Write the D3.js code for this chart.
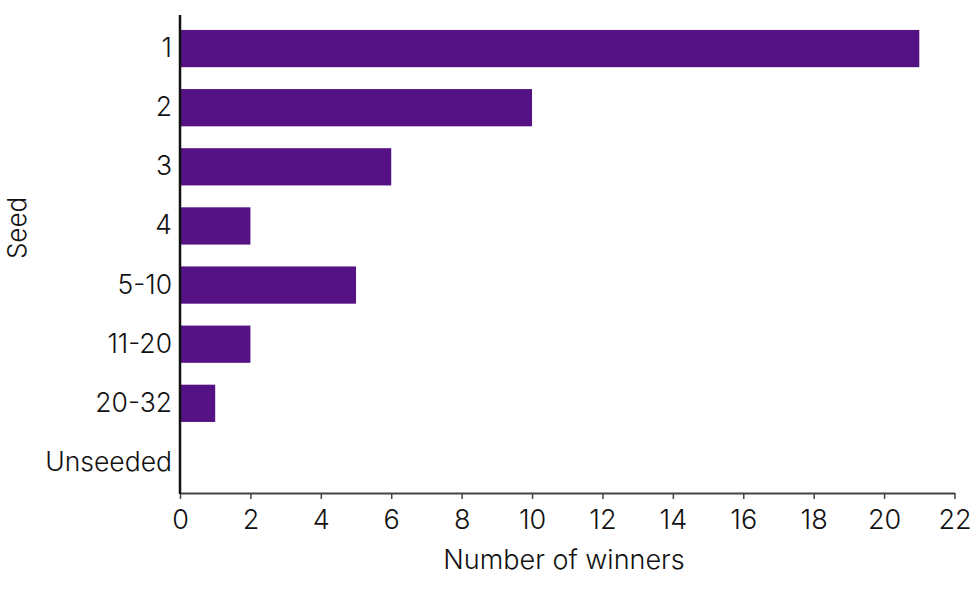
<!DOCTYPE html>
<html><head><meta charset="utf-8">
<script src="https://cdn.jsdelivr.net/npm/d3@7"></script>
<style>body{margin:0;background:#fff}svg text{font-family:Inter,"Liberation Sans",Arial,sans-serif;font-weight:300;fill:#111}</style>
</head><body><svg id="c" width="976" height="590"></svg>
<script>
const categories = ["1","2","3","4","5-10","11-20","20-32","Unseeded"];
const winners = [21,10,6,2,5,2,1,0];
const xTicks = [0,2,4,6,8,10,12,14,16,18,20,22];

const FONT = "Inter, Liberation Sans, Arial, sans-serif";
const svg = d3.select("#c");
const x = d3.scaleLinear().domain([0,22]).range([180,954.5]);
const y = d3.scaleBand().domain(categories).range([19,492]).paddingInner(0.37).paddingOuter(0.185);

svg.selectAll("rect.bar").data(categories).enter().append("rect")
  .attr("class","bar")
  .attr("x", x(0))
  .attr("y", d => y(d))
  .attr("width", (d,i) => x(winners[i]) - x(0))
  .attr("height", y.bandwidth())
  .attr("fill", "#541284");

// x axis
const xa = svg.append("g").attr("transform","translate(0,493)")
  .call(d3.axisBottom(x).tickValues(xTicks).tickSize(6).tickSizeOuter(0).tickPadding(11));
xa.select(".domain").attr("stroke","#444").attr("stroke-width",2);
xa.selectAll(".tick line").attr("stroke","#444").attr("stroke-width",1.5);
xa.selectAll(".tick text").attr("font-size",27).attr("fill","#111").style("font-family",FONT).style("font-weight",300);

// y axis
const ya = svg.append("g").attr("transform","translate(180,0)")
  .call(d3.axisLeft(y).tickSize(0).tickPadding(8));
ya.select(".domain").remove();
ya.selectAll(".tick text").attr("font-size",26.5).attr("fill","#111").style("font-family",FONT).style("font-weight",300);
svg.append("line").attr("x1",180).attr("x2",180).attr("y1",15).attr("y2",494)
  .attr("stroke","#111").attr("stroke-width",2.5);

svg.append("text").attr("x",564).attr("y",569).attr("text-anchor","middle")
  .attr("font-size",27).text("Number of winners");
svg.append("text").attr("transform","translate(26,228) rotate(-90)").attr("text-anchor","middle")
  .attr("font-size",26).text("Seed");
</script></body></html>
